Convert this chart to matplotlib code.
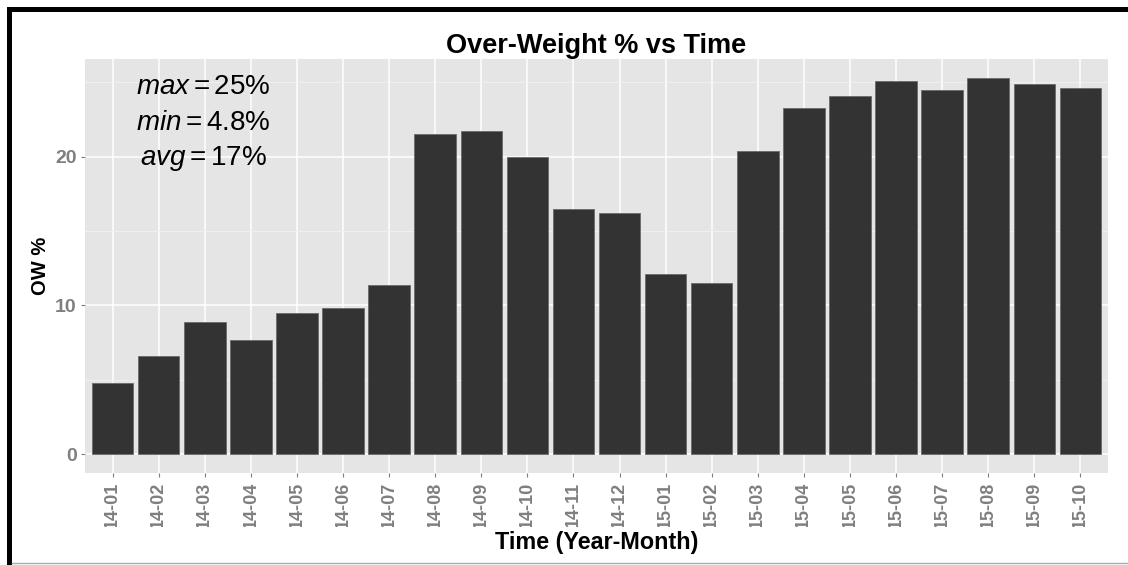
import matplotlib
matplotlib.use('Agg')
import matplotlib.pyplot as plt
from matplotlib.patches import Rectangle
from matplotlib.lines import Line2D
from matplotlib.ticker import MultipleLocator
from matplotlib.transforms import Bbox, TransformedBbox

plt.rcParams['font.family'] = ['Liberation Sans', 'DejaVu Sans']
plt.rcParams['mathtext.fontset'] = 'custom'
plt.rcParams['mathtext.rm'] = 'Liberation Sans'
plt.rcParams['mathtext.it'] = 'Liberation Sans:italic'

# over-weight share per month
months = ['14-01', '14-02', '14-03', '14-04', '14-05', '14-06', '14-07', '14-08',
          '14-09', '14-10', '14-11', '14-12', '15-01', '15-02', '15-03', '15-04',
          '15-05', '15-06', '15-07', '15-08', '15-09', '15-10']
ow_pct = [4.8, 6.6, 8.9, 7.7, 9.5, 9.8, 11.4, 21.5, 21.7, 20.0, 16.5, 16.2,
          12.1, 11.5, 20.4, 23.3, 24.1, 25.1, 24.5, 25.3, 24.9, 24.6]
stats_text = [r'$max = 25\%$', r'$min = 4.8\%$', r'$avg = 17\%$']
stats_y = [24.7, 22.3, 19.85]

W, H = 1128, 565
fig = plt.figure(figsize=(W / 100, H / 100), dpi=100)
ax = fig.add_axes([85 / W, 1 - 473 / H, (1108 - 85) / W, (473 - 59) / H])
ax.set_facecolor('#E5E5E5')

x = list(range(len(months)))
ax.bar(x, ow_pct, width=0.9, color='#333333', edgecolor='#6a6a6a', linewidth=0.6, zorder=3)

ax.set_xlim(-0.6, len(months) - 0.4)
ax.set_ylim(-1.265, 26.57)
ax.set_xticks(x)
ax.set_xticklabels(months, rotation=90)
ax.yaxis.set_major_locator(MultipleLocator(10))
ax.yaxis.set_minor_locator(MultipleLocator(5))

ax.grid(which='major', color='white', linewidth=1.1, zorder=0)
ax.grid(which='minor', axis='y', color='#F2F2F2', linewidth=0.6, zorder=0)
ax.set_axisbelow(True)
for s in ax.spines.values():
    s.set_visible(False)

ax.tick_params(axis='both', which='major', length=3, width=0.8, color='#7F7F7F',
               labelcolor='#7F7F7F')
ax.tick_params(axis='y', which='minor', length=0)
ax.tick_params(axis='x', pad=3.5)
ax.tick_params(axis='y', pad=3)
for lbl in ax.get_xticklabels():
    lbl.set_fontsize(13)
    lbl.set_fontweight('bold')
for lbl in ax.get_yticklabels():
    lbl.set_fontsize(14)
    lbl.set_fontweight('bold')

# tick labels are cut off at the bottom in the original
clip = TransformedBbox(Bbox([[0, 38 / H], [1, 1]]), fig.transFigure)
for lbl in ax.get_xticklabels():
    lbl.set_clip_on(True)
    lbl.set_clip_box(clip)

ax.set_title('Over-Weight % vs Time', fontsize=19.5, fontweight='bold', pad=3)
ax.set_xlabel('Time (Year-Month)', fontsize=16.8, fontweight='bold')
ax.xaxis.set_label_coords(0.5, (1 - 543 / H - (1 - 473 / H)) / ((473 - 59) / H))
ax.xaxis.label.set_va('center')
ax.set_ylabel('OW %', fontsize=14.5, fontweight='bold')
ax.yaxis.set_label_coords((40 - 85) / (1108 - 85), 0.5)
ax.yaxis.label.set_va('center')

for t, yv in zip(stats_text, stats_y):
    ax.text(1.97, yv, t, fontsize=20, ha='center', va='center', zorder=5)

# screenshot frame
fig.add_artist(Rectangle((7 / W, 0), 5 / W, (H - 7) / H, transform=fig.transFigure,
                         facecolor='black', edgecolor='none'))
fig.add_artist(Rectangle((7 / W, (H - 12) / H), 1, 5 / H, transform=fig.transFigure,
                         facecolor='black', edgecolor='none'))
fig.add_artist(Line2D([12 / W, 1], [2 / H, 2 / H], transform=fig.transFigure,
                      color='#AAAAAA', linewidth=1))

fig.savefig('out.png', dpi=100, facecolor='white')
